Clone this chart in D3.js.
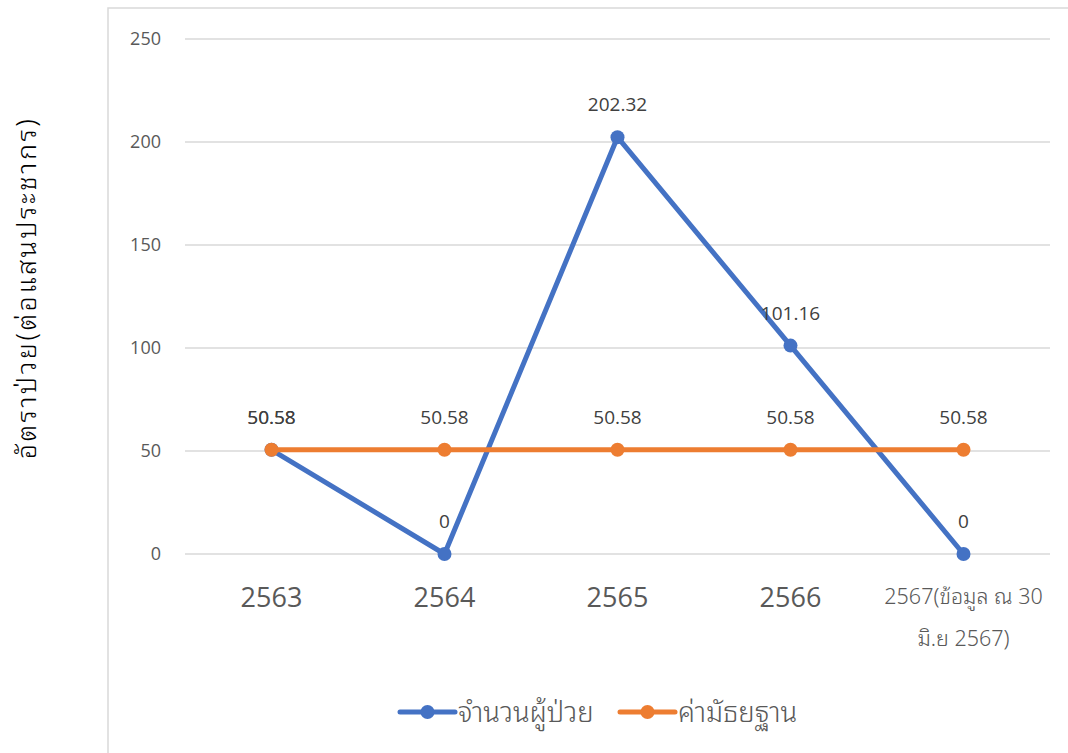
<!DOCTYPE html>
<html>
<head>
<meta charset="utf-8">
<script src="https://cdn.jsdelivr.net/npm/d3@7"></script>
<style>
  body { margin: 0; background: #fff; }
  svg { font-family: "Open Sans", "Noto Sans", sans-serif; }
  .thai { font-family: "Noto Sans Thai Looped", "Noto Sans Thai", "Loma", "Garuda", "Sarabun", "Tlwg Typo", "Open Sans", sans-serif; }
</style>
</head>
<body>
<svg id="chart" width="1068" height="753"></svg>
<script>
var years = ['2563', '2564', '2565', '2566', '2567'];
var xLabels = [['2563'], ['2564'], ['2565'], ['2566'], ['2567(ข้อมูล ณ 30', 'มิ.ย 2567)']];
var patients = [50.58, 0, 202.32, 101.16, 0];
var median = [50.58, 50.58, 50.58, 50.58, 50.58];
var yTicks = [0, 50, 100, 150, 200, 250];
var seriesNames = ['จำนวนผู้ป่วย', 'ค่ามัธยฐาน'];
var colors = ['#4472C4', '#ED7D31'];

var svg = d3.select('#chart');

// outer chart border
svg.append('rect')
    .attr('x', 108).attr('y', 8)
    .attr('width', 1000).attr('height', 800)
    .attr('fill', 'none').attr('stroke', '#d9d9d9').attr('stroke-width', 1.5);

var x = d3.scalePoint().domain(years).range([185, 1050]).padding(0.5),
    y = d3.scaleLinear().domain([0, 250]).range([554, 39]);

// gridlines
svg.append('g').selectAll('line')
    .data(yTicks).join('line')
    .attr('x1', 185).attr('x2', 1050)
    .attr('y1', d => y(d)).attr('y2', d => y(d))
    .attr('stroke', '#d9d9d9').attr('stroke-width', 1.5);

// y tick labels
svg.append('g').selectAll('text')
    .data(yTicks).join('text')
    .attr('x', 161).attr('y', d => y(d))
    .attr('dy', '0.35em')
    .attr('text-anchor', 'end')
    .attr('fill', '#595959').attr('font-size', 18)
    .text(d => d);

// y axis title
svg.append('text')
    .attr('class', 'thai')
    .attr('transform', 'translate(36,288) rotate(-90)')
    .attr('text-anchor', 'middle')
    .attr('fill', '#000').attr('font-size', 27).attr('font-weight', 300)
    .attr('letter-spacing', 2.5)
    .text('อัตราป่วย(ต่อแสนประชากร)');

// x labels
years.forEach(function (yr, i) {
    var lines = xLabels[i];
    var t = svg.append('text')
        .attr('text-anchor', 'middle')
        .attr('fill', '#595959');
    if (lines.length == 1) {
        t.attr('x', x(yr)).attr('y', 607).attr('font-size', 27).text(lines[0]);
    } else {
        t.attr('class', 'thai');
        lines.forEach(function (l, j) {
            t.append('tspan').attr('x', x(yr)).attr('y', 604 + j * 42)
                .attr('font-size', 21.5).attr('font-weight', 300).text(l);
        });
    }
});

var line = d3.line().x((d, i) => x(years[i])).y(d => y(d));
var series = [patients, median];

series.forEach(function (vals, s) {
    var g = svg.append('g');
    g.append('path')
        .datum(vals)
        .attr('d', line)
        .attr('fill', 'none')
        .attr('stroke', colors[s]).attr('stroke-width', 5)
        .attr('stroke-linejoin', 'round');
    g.selectAll('circle')
        .data(vals).join('circle')
        .attr('cx', (d, i) => x(years[i]))
        .attr('cy', d => y(d))
        .attr('r', 7)
        .attr('fill', colors[s]);
});

// data labels
series.forEach(function (vals) {
    svg.append('g').selectAll('text')
        .data(vals).join('text')
        .attr('x', (d, i) => x(years[i]))
        .attr('y', d => y(d) - 26)
        .attr('text-anchor', 'middle')
        .attr('fill', '#404040').attr('font-size', 19)
        .text(d => d);
});

// legend
var legend = svg.append('g');
seriesNames.forEach(function (name, s) {
    var lx = 400 + s * 220;
    legend.append('line')
        .attr('x1', lx).attr('x2', lx + 55)
        .attr('y1', 712).attr('y2', 712)
        .attr('stroke', colors[s]).attr('stroke-width', 5)
        .attr('stroke-linecap', 'round');
    legend.append('circle')
        .attr('cx', lx + 27.5).attr('cy', 712).attr('r', 7)
        .attr('fill', colors[s]);
    legend.append('text')
        .attr('class', 'thai')
        .attr('x', lx + 58).attr('y', 712).attr('dy', '0.35em')
        .attr('fill', '#595959').attr('font-size', 27.5).attr('font-weight', 300)
        .text(name);
});
</script>
</body>
</html>
